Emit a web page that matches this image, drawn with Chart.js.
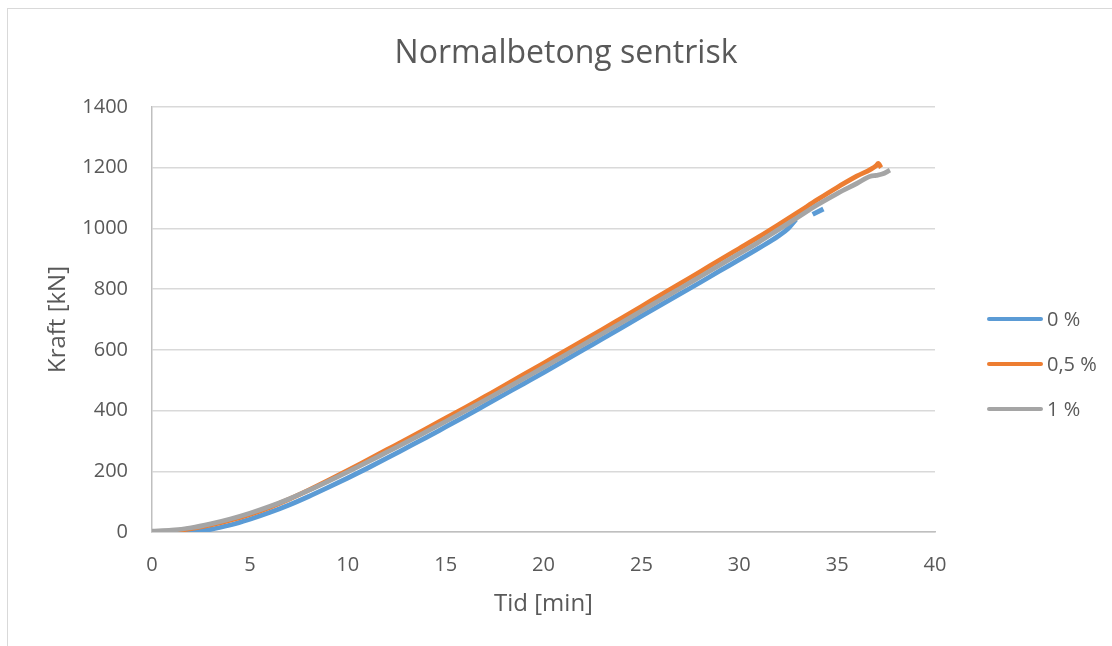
<!DOCTYPE html>
<html>
<head>
<meta charset="utf-8">
<script src="https://cdn.jsdelivr.net/npm/chart.js@4/dist/chart.umd.min.js"></script>
<style>
  html, body { margin: 0; padding: 0; background: #ffffff; }
  #wrap { position: relative; width: 1112px; height: 646px; overflow: hidden; }
  #frame { position: absolute; left: 7px; top: 8px; width: 1300px; height: 800px; border: 1px solid #d9d9d9; box-sizing: border-box; }
  canvas { position: absolute; left: 0; top: 0; }
</style>
</head>
<body>
<div id="wrap">
  <div id="frame"></div>
  <canvas id="c" width="1112" height="646"></canvas>
</div>
<script>
// ---- data ----
const chartTitle = 'Normalbetong sentrisk';
const xTitle = 'Tid [min]';
const yTitle = 'Kraft [kN]';
const seriesNames = ['0 %', '0,5 %', '1 %'];

// 0 %
const t0  = [0, 1, 1.5, 2, 3, 4, 5, 6, 7, 8, 9, 10, 11, 12, 13, 14, 15, 16, 17, 18, 19, 20, 21, 22, 23, 24, 25, 26, 27, 28, 29, 30, 31, 32, 32.5, 32.9, 33.3, 33.75, 34.3];
const kN0 = [0, 0, 0, 2, 9, 23, 42, 64, 89, 117, 147, 178, 210, 243, 277, 311, 346, 381, 417, 453, 489, 525, 562, 599, 636, 673, 711, 748, 785, 822, 860, 897, 935, 975, 1000, 1030, null, 1046, 1064];

// 0,5 %
const t05  = [0, 1, 2, 3, 4, 5, 6, 7, 8, 9, 10, 11, 12, 13, 14, 15, 16, 17, 18, 19, 20, 21, 22, 23, 24, 25, 26, 27, 28, 29, 30, 31, 32, 33, 34, 35, 36, 37, 37.1, 37.25];
const kN05 = [0, 3, 11, 23, 39, 58, 81, 108, 138, 170, 203, 237, 271, 305, 340, 375, 410, 446, 482, 519, 556, 593, 630, 667, 705, 743, 781, 819, 857, 896, 934, 972, 1012, 1053, 1095, 1135, 1172, 1207, 1214, 1200];

// 1 %
const t1  = [0, 1, 2, 3, 4, 5, 6, 7, 8, 9, 10, 11, 12, 13, 14, 15, 16, 17, 18, 19, 20, 21, 22, 23, 24, 25, 26, 27, 28, 29, 30, 31, 32, 33, 34, 35, 36, 36.7, 37.0, 37.3, 37.7];
const kN1 = [3, 6, 14, 27, 43, 62, 84, 109, 137, 167, 198, 230, 263, 296, 330, 364, 399, 434, 470, 506, 542, 579, 616, 653, 690, 728, 766, 803, 841, 879, 917, 955, 996, 1037, 1078, 1115, 1148, 1172, 1175, 1179, 1192];

const xMin = 0, xMax = 40, xStep = 5;
const yMin = 0, yMax = 1400, yStep = 200;

const colors = ['#5B9BD5', '#ED7D31', '#A5A5A5'];
const textColor = '#595959';
const fontFamily = "'Open Sans', 'DejaVu Sans', sans-serif";

function pairs(ts, vs) { return ts.map((t, i) => ({ x: t, y: vs[i] })); }

const legendPlugin = {
  id: 'sideLegend',
  afterDraw(chart) {
    const ctx = chart.ctx;
    const ys = [319, 364, 409];
    ctx.save();
    chart.data.datasets.forEach((ds, i) => {
      ctx.strokeStyle = ds.borderColor;
      ctx.lineWidth = 4;
      ctx.lineCap = 'round';
      ctx.beginPath();
      ctx.moveTo(989, ys[i]);
      ctx.lineTo(1041, ys[i]);
      ctx.stroke();
      ctx.fillStyle = textColor;
      ctx.font = '20px ' + fontFamily;
      ctx.textBaseline = 'middle';
      ctx.textAlign = 'left';
      ctx.fillText(ds.label, 1047, ys[i] + 1);
    });
    ctx.restore();
  }
};

new Chart(document.getElementById('c'), {
  type: 'scatter',
  data: {
    datasets: [
      { label: seriesNames[0], data: pairs(t0, kN0), borderColor: colors[0], backgroundColor: colors[0], order: 3 },
      { label: seriesNames[1], data: pairs(t05, kN05), borderColor: colors[1], backgroundColor: colors[1], order: 2 },
      { label: seriesNames[2], data: pairs(t1, kN1), borderColor: colors[2], backgroundColor: colors[2], order: 1 }
    ].map(d => Object.assign(d, {
      showLine: true, borderWidth: 4.8, pointRadius: 0, pointHoverRadius: 0,
      tension: 0.4, cubicInterpolationMode: 'monotone', spanGaps: false, fill: false
    }))
  },
  options: {
    responsive: false,
    animation: false,
    events: [],
    layout: { padding: { left: 20, right: 0, top: 0, bottom: 0 } },
    plugins: {
      legend: { display: false },
      tooltip: { enabled: false },
      title: {
        display: true, text: chartTitle, color: textColor,
        font: { family: fontFamily, size: 32, weight: 'normal' },
        padding: { top: 35, bottom: 33.6 }
      }
    },
    scales: {
      x: {
        type: 'linear', position: 'bottom', min: xMin, max: xMax,
        ticks: { stepSize: xStep, color: textColor, font: { family: fontFamily, size: 20 }, padding: 21, callback: v => String(v) },
        grid: { display: false, drawTicks: false },
        border: { display: true, color: '#bfbfbf', width: 1.5 },
        title: { display: true, text: xTitle, color: textColor, font: { family: fontFamily, size: 24 }, padding: { top: 0, bottom: 27 } },
        afterFit(s) { s.height = 114; }
      },
      y: {
        type: 'linear', position: 'left', min: yMin, max: yMax,
        ticks: { stepSize: yStep, color: textColor, font: { family: fontFamily, size: 20 }, padding: 24, callback: v => String(v) },
        grid: { color: '#d9d9d9', lineWidth: 1.5, drawTicks: false },
        border: { display: true, color: '#bfbfbf', width: 1.5 },
        title: { display: true, text: yTitle, color: textColor, font: { family: fontFamily, size: 24 }, padding: { top: 24, bottom: 0 } },
        afterFit(s) { s.width = 132; }
      },
      yRight: {
        type: 'linear', position: 'right', display: true,
        ticks: { display: false }, grid: { display: false, drawTicks: false }, border: { display: false },
        afterFit(s) { s.width = 177; }
      }
    }
  },
  plugins: [legendPlugin]
});
</script>
</body>
</html>
